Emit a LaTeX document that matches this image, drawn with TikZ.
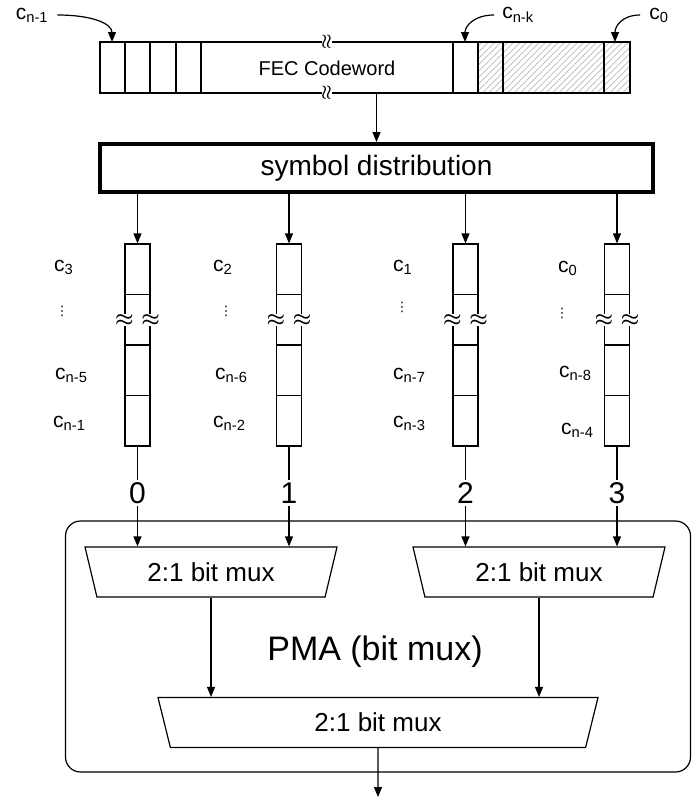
\documentclass[tikz,border=0pt]{standalone}
\usepackage{fontspec}
\setmainfont{Liberation Sans}
\newfontfamily\symfont{DejaVu Sans}
\usepackage{tikz}
\usetikzlibrary{shapes.geometric, arrows.meta, patterns.meta}

\newcommand{\csym}[1]{c\textsubscript{#1}}

\begin{document}
\begin{tikzpicture}[x=1pt, y=-1pt,
  thinline/.style={line width=1.2pt},
  arr/.style={-{Triangle[length=10pt, width=8pt]}, line width=1.2pt},
  lbl/.style={font=\fontsize{21}{24}\selectfont, inner sep=0},
  dots/.style={font=\symfont\fontsize{13}{14}\selectfont, inner sep=0},
  cell/.style={draw, line width=1.2pt, inner sep=0, minimum width=25, minimum height=202},
  num/.style={font=\fontsize{30}{32}\selectfont, inner sep=2pt},
  gap/.style={fill=white, inner sep=0, font=\fontsize{22}{22}\selectfont\boldmath},
  brk/.style={fill=white, inner sep=0.5pt, rotate=90, font=\fontsize{19}{19}\selectfont\boldmath},
  mux/.style={draw, line width=1.2pt, trapezium, shape border rotate=180, trapezium stretches body=true,
    minimum height=50, inner sep=0, font=\fontsize{26}{30}\selectfont},
  hatch/.style={pattern={Lines[angle=45, distance=4.5pt, line width=0.7pt]}, pattern color=gray!55}
]
\useasboundingbox (0,0) rectangle (692,798);

% FEC codeword
\fill[hatch] (478,42) rectangle (630,93);
\node[draw, line width=1.2pt, minimum width=530, minimum height=51, inner sep=0] (cw) at (365,67.5) {};
\draw[thinline] (125,42) -- (125,93) (150,42) -- (150,93) (176,42) -- (176,93) (201,42) -- (201,93);
\draw[thinline] (453,42) -- (453,93) (478,42) -- (478,93) (503,42) -- (503,93) (604,42) -- (604,93);
\node[font=\fontsize{20}{24}\selectfont] (fec) at (327,68) {FEC Codeword};
\node[brk] (brktop) at (327,42) {$\approx$};
\node[brk] (brkbot) at (327,93) {$\approx$};

\node[lbl] (lcn1) at (32,15) {\csym{n-1}};
\node[lbl] (lcnk) at (518,15) {\csym{n-k}};
\node[lbl] (lc0) at (659,15) {\csym{0}};
\coordinate (tipA) at (112,42);
\coordinate (tipB) at (465,42);
\coordinate (tipC) at (615,42);
\draw[arr] ([xshift=9pt]lcn1.east) .. controls +(36,0) and +(0,-18) .. (tipA);
\draw[arr] ([xshift=-8pt]lcnk.west) .. controls +(-20,0) and +(0,-16) .. (tipB);
\draw[arr] ([xshift=-9pt]lc0.west) .. controls +(-18,0) and +(0,-16) .. (tipC);

% symbol distribution
\node[draw, line width=4pt, minimum width=553, minimum height=48, font=\fontsize{28}{32}\selectfont] (dist) at (376.5,168) {symbol distribution};
\draw[arr] (cw.south -| dist.north) -- (dist.north);

% lanes
\node[cell] (col0) at (137.5,345) {};
\node[cell] (col1) at (289,345) {};
\node[cell] (col2) at (465.5,345) {};
\node[cell] (col3) at (617,345) {};
\draw[thinline] (125,294.5) -- (150,294.5) (125,345) -- (150,345) (125,395.5) -- (150,395.5);
\draw[thinline] (276.5,294.5) -- (301.5,294.5) (276.5,345) -- (301.5,345) (276.5,395.5) -- (301.5,395.5);
\draw[thinline] (453,294.5) -- (478,294.5) (453,345) -- (478,345) (453,395.5) -- (478,395.5);
\draw[thinline] (604.5,294.5) -- (629.5,294.5) (604.5,345) -- (629.5,345) (604.5,395.5) -- (629.5,395.5);
\node[gap] (gl0) at (col0.west |- 0,320) {$\approx$};
\node[gap] (gr0) at (col0.east |- 0,320) {$\approx$};
\node[gap] (gl1) at (col1.west |- 0,320) {$\approx$};
\node[gap] (gr1) at (col1.east |- 0,320) {$\approx$};
\node[gap] (gl2) at (col2.west |- 0,320) {$\approx$};
\node[gap] (gr2) at (col2.east |- 0,320) {$\approx$};
\node[gap] (gl3) at (col3.west |- 0,320) {$\approx$};
\node[gap] (gr3) at (col3.east |- 0,320) {$\approx$};
\draw[arr] (dist.south -| col0.north) -- (col0.north);
\draw[arr] (dist.south -| col1.north) -- (col1.north);
\draw[arr] (dist.south -| col2.north) -- (col2.north);
\draw[arr] (dist.south -| col3.north) -- (col3.north);

\node[lbl, anchor=west] (la0) at (54,267) {\csym{3}};
\node[dots] (ld0) at (62,311) {⋮};
\node[lbl, anchor=west] (lb0) at (55,375) {\csym{n-5}};
\node[lbl, anchor=west] (lc0) at (53,423) {\csym{n-1}};
\node[lbl, anchor=west] (la1) at (213,267) {\csym{2}};
\node[dots] (ld1) at (226,311) {⋮};
\node[lbl, anchor=west] (lb1) at (215,375) {\csym{n-6}};
\node[lbl, anchor=west] (lc1) at (213,423) {\csym{n-2}};
\node[lbl, anchor=west] (la2) at (393,267) {\csym{1}};
\node[dots] (ld2) at (402,307) {⋮};
\node[lbl, anchor=west] (lb2) at (393,375) {\csym{n-7}};
\node[lbl, anchor=west] (lc2) at (393,423) {\csym{n-3}};
\node[lbl, anchor=west] (la3) at (558,268) {\csym{0}};
\node[dots] (ld3) at (562,313) {⋮};
\node[lbl, anchor=west] (lb3) at (559,373) {\csym{n-8}};
\node[lbl, anchor=west] (lc3) at (561,430) {\csym{n-4}};

\node[num] (n0) at (137.5,493) {0};
\node[num] (n1) at (289,493) {1};
\node[num] (n2) at (465.5,493) {2};
\node[num] (n3) at (617,493) {3};
\draw[thinline] (col0.south) -- (n0.north);
\draw[thinline] (col1.south) -- (n1.north);
\draw[thinline] (col2.south) -- (n2.north);
\draw[thinline] (col3.south) -- (n3.north);

% PMA
\node[draw, line width=1.2pt, rounded corners=15, minimum width=625, minimum height=251] (pma) at (378,646.5) {};
\node[font=\fontsize{34}{38}\selectfont] (pmalbl) at (375,652) {PMA (bit mux)};
\node[mux, minimum width=252, trapezium angle=58] (mux0) at (211,572) {2:1 bit mux};
\node[mux, minimum width=252, trapezium angle=58] (mux1) at (539,572) {2:1 bit mux};
\node[mux, minimum width=440, trapezium angle=57] (mux2) at (378,722.5) {2:1 bit mux};
\draw[arr] (n0.south) -- (n0.south |- mux0.north);
\draw[arr] (n1.south) -- (n1.south |- mux0.north);
\draw[arr] (n2.south) -- (n2.south |- mux1.north);
\draw[arr] (n3.south) -- (n3.south |- mux1.north);
\draw[arr] (mux0.south) -- (mux0.south |- mux2.north);
\draw[arr] (mux1.south) -- (mux1.south |- mux2.north);
\coordinate (out) at (378,797);
\draw[arr] (mux2.south) -- (out);
\end{tikzpicture}
\end{document}
